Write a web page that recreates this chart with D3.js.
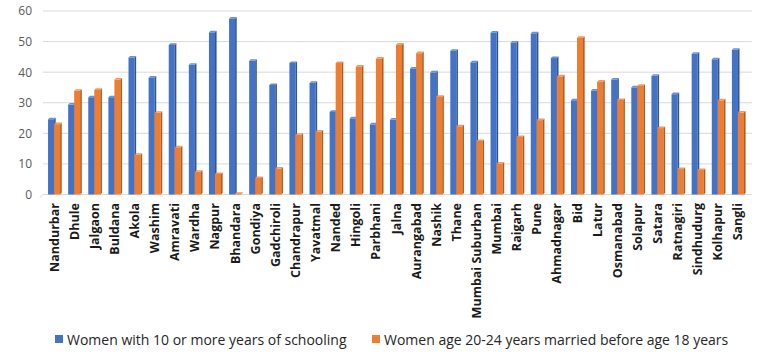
<!DOCTYPE html>
<html>
<head>
<meta charset="utf-8">
<script src="https://cdn.jsdelivr.net/npm/d3@7"></script>
<style>
  body { margin: 0; background: #fff; }
  svg { font-family: "Open Sans", sans-serif; }
</style>
</head>
<body>
<svg id="chart" width="778" height="359"></svg>
<script>
var districts = ["Nandurbar", "Dhule", "Jalgaon", "Buldana", "Akola", "Washim", "Amravati", "Wardha",
  "Nagpur", "Bhandara", "Gondiya", "Gadchiroli", "Chandrapur", "Yavatmal", "Nanded", "Hingoli",
  "Parbhani", "Jalna", "Aurangabad", "Nashik", "Thane", "Mumbai Suburban", "Mumbai", "Raigarh",
  "Pune", "Ahmadnagar", "Bid", "Latur", "Osmanabad", "Solapur", "Satara", "Ratnagiri",
  "Sindhudurg", "Kolhapur", "Sangli"];

// women with 10 or more years of schooling
var schooling = [24.6, 29.4, 31.8, 31.8, 44.8, 38.2, 48.9, 42.4, 53.0, 57.5, 43.7, 35.8, 43.0, 36.5,
  27.0, 24.9, 22.9, 24.5, 41.2, 39.9, 47.0, 43.2, 52.9, 49.7, 52.7, 44.6, 30.8, 34.0, 37.6, 35.0,
  38.8, 32.8, 46.0, 44.2, 47.3];

// women age 20-24 married before 18
var childMarriage = [23.0, 33.9, 34.2, 37.6, 13.0, 26.7, 15.4, 7.4, 6.7, 0.2, 5.4, 8.5, 19.5, 20.6,
  43.0, 41.8, 44.4, 49.0, 46.2, 31.9, 22.3, 17.5, 10.1, 18.8, 24.3, 38.6, 51.2, 36.9, 30.9, 35.5,
  21.7, 8.3, 8.0, 30.8, 26.8];

var yTicks = [0, 10, 20, 30, 40, 50, 60];
var seriesNames = ["Women with 10 or more years of schooling", "Women age 20-24 years married before age 18 years"];
var front = ["#4472C4", "#ED7D31"];
var side = ["#2F5597", "#AE5A21"];
var top_ = ["#6A8FD3", "#F19A5E"];

var svg = d3.select("#chart");
var left = 40, right = 752, bottom = 194.5, topY = 11;
var depth = 1.6;

var x = d3.scaleBand().domain(districts).range([left, right]).paddingInner(0.4).paddingOuter(0.4);
var x1 = d3.scaleBand().domain([0, 1]).range([0, x.bandwidth()]);
var y = d3.scaleLinear().domain([0, 60]).range([bottom, topY]);

// gridlines
svg.append("g")
  .selectAll("line")
  .data(yTicks)
  .enter().append("line")
  .attr("x1", left + 3).attr("x2", right)
  .attr("y1", function(d) { return y(d); })
  .attr("y2", function(d) { return y(d); })
  .attr("stroke", "#d9d9d9")
  .attr("stroke-width", 1);

svg.append("line")
  .attr("x1", left).attr("y1", y(0) + 3)
  .attr("x2", left + 3).attr("y2", y(0))
  .attr("stroke", "#d9d9d9");

// y axis labels
var yAxis = d3.axisLeft(y).tickValues(yTicks).tickSize(0).tickPadding(0);
var gy = svg.append("g")
  .attr("transform", "translate(32,0)")
  .call(yAxis);
gy.select(".domain").remove();
gy.selectAll("text")
  .attr("fill", "#595959")
  .style("font-size", "12px")
  .style("font-family", "'Open Sans', sans-serif");

// bars as flat 3d boxes
var series = [schooling, childMarriage];
series.forEach(function(vals, s) {
  var g = svg.append("g");
  var w = x1.bandwidth();
  var bars = g.selectAll("g.bar")
    .data(districts.map(function(d, i) { return {name: d, v: vals[i]}; }))
    .enter().append("g").attr("class", "bar");

  bars.append("rect")
    .attr("x", function(d) { return x(d.name) + x1(s); })
    .attr("y", function(d) { return y(d.v); })
    .attr("width", w)
    .attr("height", function(d) { return y(0) - y(d.v); })
    .attr("fill", front[s]);

  bars.append("polygon")
    .attr("points", function(d) {
      var x0 = x(d.name) + x1(s) + w, yt = y(d.v), yb = y(0);
      return [[x0, yt], [x0 + depth, yt - depth], [x0 + depth, yb - depth], [x0, yb]].join(" ");
    })
    .attr("fill", side[s]);

  bars.append("polygon")
    .attr("points", function(d) {
      var x0 = x(d.name) + x1(s), yt = y(d.v);
      return [[x0, yt], [x0 + depth, yt - depth], [x0 + w + depth, yt - depth], [x0 + w, yt]].join(" ");
    })
    .attr("fill", top_[s]);
});

// category labels
svg.append("g")
  .selectAll("text")
  .data(districts)
  .enter().append("text")
  .attr("transform", function(d) {
    return "translate(" + (x(d) + x.bandwidth() / 2 + 4.5) + ",203) rotate(-90)";
  })
  .attr("text-anchor", "end")
  .attr("fill", "#1a1a1a")
  .style("font-size", "12.5px")
  .style("font-weight", "700")
  .text(function(d) { return d; });

// legend
var legendX = [55, 372];
var lg = svg.append("g").selectAll("g")
  .data(seriesNames)
  .enter().append("g")
  .attr("transform", function(d, i) { return "translate(" + legendX[i] + ",335)"; });
lg.append("rect")
  .attr("width", 8).attr("height", 8)
  .attr("fill", function(d, i) { return front[i]; });
lg.append("text")
  .attr("x", 12).attr("y", 9.5)
  .attr("fill", "#262626")
  .style("font-size", "14px")
  .text(function(d) { return d; });
</script>
</body>
</html>
